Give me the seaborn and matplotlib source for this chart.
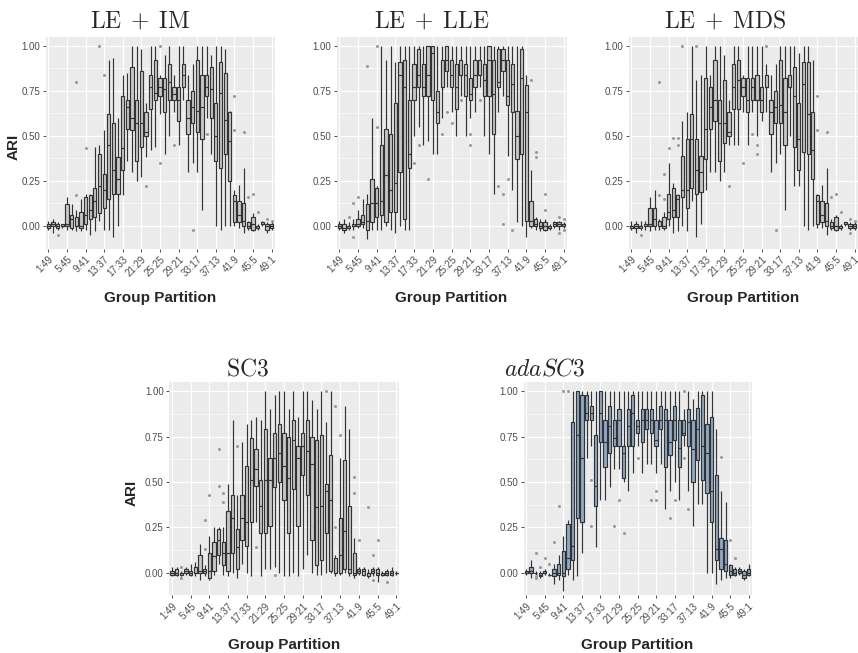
import numpy as np
import pandas as pd
import seaborn as sns
import matplotlib.pyplot as plt
from matplotlib.ticker import FixedLocator

# partitions 1:49 ... 49:1
PARTITIONS = [f"{i}:{50 - i}" for i in range(1, 50)]
TICK_LABELS = PARTITIONS[::4]

# ---- LE + IM : five-number summaries (whisker low, q1, median, q3, whisker high)
IM_LO = [-0.02, -0.04, -0.02, -0.01, -0.02, -0.02, -0.03, -0.03, -0.02, -0.05,
         -0.03, 0.03, -0.02, -0.02, -0.06, 0.00, 0.17, 0.36, 0.30, 0.25,
         0.27, 0.38, 0.42, 0.44, 0.62, 0.40, 0.50, 0.63, 0.45, 0.70,
         0.30, 0.35, 0.30, 0.09, 0.60, 0.40, 0.00, -0.02, 0.00, 0.00,
         0.00, -0.01, -0.04, -0.02, -0.03, -0.02, 0.00, -0.04, -0.02]
IM_Q1 = [-0.01, 0.00, -0.01, 0.00, 0.00, -0.01, 0.00, -0.01, 0.01, 0.04,
         0.05, 0.07, 0.10, 0.15, 0.18, 0.18, 0.31, 0.54, 0.53, 0.36,
         0.44, 0.50, 0.65, 0.70, 0.72, 0.63, 0.70, 0.70, 0.58, 0.77,
         0.51, 0.57, 0.52, 0.48, 0.72, 0.60, 0.36, 0.32, 0.40, 0.25,
         0.02, 0.02, 0.00, -0.01, -0.02, -0.01, 0.01, -0.02, -0.01]
IM_MED = [0.00, 0.01, 0.00, 0.00, 0.01, 0.04, 0.00, 0.00, 0.06, 0.09,
          0.14, 0.22, 0.20, 0.45, 0.31, 0.26, 0.43, 0.66, 0.60, 0.57,
          0.57, 0.52, 0.77, 0.74, 0.77, 0.76, 0.80, 0.73, 0.70, 0.84,
          0.60, 0.66, 0.64, 0.66, 0.77, 0.76, 0.50, 0.74, 0.59, 0.47,
          0.14, 0.06, 0.03, 0.00, 0.01, 0.00, 0.01, 0.00, 0.00]
IM_Q3 = [0.01, 0.02, 0.01, 0.01, 0.12, 0.06, 0.05, 0.08, 0.16, 0.17,
         0.21, 0.40, 0.29, 0.62, 0.57, 0.38, 0.72, 0.70, 0.88, 0.70,
         0.86, 0.63, 0.84, 0.92, 0.82, 0.82, 0.90, 0.77, 0.77, 0.90,
         0.70, 0.75, 0.92, 0.84, 0.84, 0.88, 0.68, 0.91, 0.85, 0.63,
         0.17, 0.14, 0.13, 0.02, 0.05, 0.00, 0.02, 0.01, 0.01]
IM_HI = [0.03, 0.04, 0.02, 0.01, 0.16, 0.12, 0.09, 0.15, 0.18, 0.18,
         0.44, 0.45, 0.53, 0.92, 0.93, 0.60, 0.84, 0.85, 1.00, 1.00,
         0.98, 0.68, 1.00, 1.00, 0.84, 0.95, 1.00, 0.84, 1.00, 1.00,
         0.84, 0.90, 1.00, 1.00, 1.00, 0.95, 1.00, 1.00, 0.98, 0.64,
         0.20, 0.23, 0.32, 0.03, 0.07, 0.01, 0.03, 0.02, 0.02]
IM_OUT_POS = [3, 7, 7, 9, 12, 13, 22, 25, 25, 28, 32, 35, 41, 41, 43, 44, 45, 46, 48, 49]
IM_OUT_ARI = [-0.05, 0.80, 0.17, 0.43, 1.00, 0.84, 0.22, 1.00, 0.35, 0.45,
              -0.02, 0.51, 0.72, 0.53, 0.52, 0.16, 0.18, 0.08, 0.04, 0.03]

# ---- LE + LLE
LLE_LO = [-0.02, -0.04, -0.02, -0.02, -0.01, -0.01, -0.07, -0.02, -0.02, -0.02,
          0.00, -0.02, -0.04, 0.00, -0.02, -0.02, 0.50, 0.55, 0.45, 0.47,
          0.40, 0.40, 0.60, 0.77, 0.63, 0.50, 0.72, 0.50, 0.60, 0.63,
          0.77, 0.50, 0.40, 0.18, 0.63, 0.72, 0.39, 0.20, 0.02, 0.00,
          -0.06, -0.01, -0.02, -0.03, -0.03, -0.02, -0.01, -0.02, -0.01]
LLE_Q1 = [-0.01, -0.02, -0.01, 0.00, 0.00, 0.01, -0.02, 0.02, 0.05, 0.06,
          0.02, 0.08, 0.08, 0.30, 0.04, 0.32, 0.70, 0.77, 0.72, 0.72,
          0.70, 0.57, 0.77, 0.86, 0.77, 0.65, 0.84, 0.72, 0.70, 0.77,
          0.84, 0.72, 0.72, 0.51, 0.77, 0.86, 0.67, 0.63, 0.37, 0.40,
          0.03, 0.00, 0.00, -0.01, -0.02, -0.01, 0.00, 0.00, 0.00]
LLE_MED = [0.00, -0.01, 0.00, 0.00, 0.01, 0.02, 0.03, 0.13, 0.13, 0.14,
           0.28, 0.20, 0.24, 0.84, 0.77, 0.40, 0.77, 0.84, 0.77, 0.84,
           0.96, 0.63, 0.77, 0.92, 0.84, 0.77, 0.84, 0.84, 0.73, 0.84,
           0.84, 0.81, 0.92, 0.73, 0.80, 0.92, 0.72, 0.79, 0.50, 0.82,
           0.63, 0.03, 0.01, 0.00, 0.00, -0.01, 0.01, 0.01, 0.01]
LLE_Q3 = [0.01, 0.01, 0.00, 0.01, 0.04, 0.06, 0.12, 0.26, 0.21, 0.45,
          0.54, 0.51, 0.68, 0.91, 0.92, 0.70, 0.90, 0.98, 0.90, 1.00,
          1.00, 0.75, 0.92, 1.00, 0.92, 0.90, 0.92, 0.90, 0.82, 0.92,
          0.92, 0.90, 1.00, 0.92, 0.98, 0.98, 0.92, 0.90, 0.64, 0.98,
          0.78, 0.14, 0.04, 0.02, 0.02, 0.00, 0.02, 0.02, 0.01]
LLE_HI = [0.03, 0.04, 0.02, 0.04, 0.09, 0.15, 0.18, 0.60, 0.22, 1.00,
          0.92, 1.00, 0.91, 1.00, 1.00, 1.00, 1.00, 1.00, 1.00, 1.00,
          1.00, 1.00, 1.00, 1.00, 1.00, 1.00, 1.00, 1.00, 1.00, 1.00,
          1.00, 1.00, 1.00, 1.00, 1.00, 1.00, 1.00, 1.00, 1.00, 1.00,
          0.84, 0.31, 0.05, 0.04, 0.04, 0.01, 0.03, 0.03, 0.02]
LLE_OUT_POS = [3, 4, 4, 5, 7, 9, 9, 17, 18, 20, 23, 24, 25, 27, 29, 29, 31, 35,
               36, 36, 37, 38, 42, 43, 43, 45, 45, 48, 48, 49, 49]
LLE_OUT_ARI = [0.05, 0.13, -0.06, 0.16, 0.89, 1.00, 0.55, 0.35, 0.45, 0.26,
               0.51, 0.63, 0.57, 0.70, 0.51, 0.45, 0.70, 0.22, 0.18, 0.01,
               0.26, -0.02, 0.81, 0.41, 0.38, 0.18, 0.09, 0.05, -0.04, 0.04, -0.02]

# ---- LE + MDS
MDS_LO = [-0.02, -0.04, -0.02, -0.02, -0.03, -0.02, -0.02, -0.02, 0.00, -0.04,
          -0.03, 0.00, -0.03, 0.14, -0.06, 0.01, 0.20, 0.30, 0.30, 0.25,
          0.30, 0.45, 0.45, 0.45, 0.63, 0.45, 0.63, 0.50, 0.58, 0.63,
          0.30, 0.35, 0.40, 0.09, 0.50, 0.22, 0.22, 0.00, -0.02, 0.00,
          -0.01, -0.01, -0.05, -0.02, -0.03, -0.02, 0.00, -0.02, -0.02]
MDS_Q1 = [-0.01, -0.01, -0.01, 0.00, 0.00, 0.00, 0.00, -0.01, 0.04, 0.05,
          0.05, 0.16, 0.10, 0.21, 0.18, 0.19, 0.37, 0.54, 0.58, 0.36,
          0.46, 0.50, 0.65, 0.65, 0.72, 0.63, 0.70, 0.70, 0.63, 0.77,
          0.51, 0.57, 0.57, 0.45, 0.77, 0.44, 0.31, 0.41, 0.40, 0.26,
          0.01, 0.02, 0.00, -0.01, -0.02, -0.01, 0.01, -0.01, -0.01]
MDS_MED = [0.00, 0.00, 0.00, 0.00, 0.01, 0.04, 0.03, 0.00, 0.08, 0.09,
           0.15, 0.20, 0.20, 0.48, 0.31, 0.30, 0.54, 0.66, 0.70, 0.57,
           0.57, 0.52, 0.77, 0.81, 0.77, 0.70, 0.77, 0.70, 0.70, 0.77,
           0.63, 0.66, 0.67, 0.63, 0.77, 0.72, 0.48, 0.79, 0.62, 0.42,
           0.14, 0.06, 0.03, 0.00, 0.00, 0.00, 0.01, 0.00, 0.00]
MDS_Q3 = [0.00, 0.01, 0.00, 0.01, 0.10, 0.10, 0.03, 0.05, 0.18, 0.21,
          0.17, 0.39, 0.48, 0.62, 0.48, 0.39, 0.82, 0.77, 0.92, 0.70,
          0.81, 0.63, 0.90, 0.92, 0.82, 0.82, 0.82, 0.84, 0.77, 0.84,
          0.70, 0.75, 0.92, 0.82, 0.84, 0.88, 0.68, 0.91, 0.91, 0.63,
          0.17, 0.14, 0.13, 0.02, 0.05, 0.00, 0.02, 0.01, 0.01]
MDS_HI = [0.03, 0.03, 0.03, 0.03, 0.16, 0.20, 0.04, 0.08, 0.35, 0.24,
          0.18, 0.58, 0.63, 1.00, 0.81, 0.84, 1.00, 0.84, 1.00, 1.00,
          0.95, 0.70, 1.00, 1.00, 0.84, 1.00, 1.00, 1.00, 1.00, 0.90,
          0.84, 0.90, 1.00, 1.00, 1.00, 1.00, 0.96, 1.00, 1.00, 0.92,
          0.18, 0.23, 0.32, 0.04, 0.06, 0.01, 0.02, 0.02, 0.02]
MDS_OUT_POS = [3, 7, 7, 8, 8, 9, 10, 11, 11, 12, 15, 22, 25, 27, 28, 28, 30,
               32, 41, 41, 43, 44, 45, 46, 48, 48, 49]
MDS_OUT_ARI = [-0.05, 0.80, 0.17, 0.29, 0.15, 0.43, 0.49, 0.49, 0.45, 1.00,
               1.00, 0.22, 0.35, 0.51, 0.45, 0.40, 1.00, -0.02, 0.72, 0.53,
               0.52, 0.16, 0.18, 0.08, 0.04, -0.04, 0.03]

# ---- SC3
SC3_LO = [-0.02, -0.02, -0.02, -0.01, -0.02, -0.02, -0.04, -0.02, -0.04, -0.01,
          0.05, -0.01, -0.02, 0.00, -0.03, 0.05, 0.00, -0.02, 0.28, -0.02,
          0.02, 0.02, 0.03, 0.00, -0.02, -0.02, 0.00, -0.02, 0.02, 0.10,
          0.00, -0.01, -0.01, 0.00, 0.00, -0.02, -0.01, 0.00, -0.02, -0.03,
          -0.01, -0.02, -0.03, -0.02, -0.05, -0.02, -0.02, -0.02, -0.01]
SC3_Q1 = [-0.01, -0.01, -0.01, 0.00, -0.01, 0.00, 0.00, 0.00, -0.03, 0.01,
          0.10, 0.04, 0.01, 0.11, 0.02, 0.18, 0.15, 0.28, 0.48, 0.22,
          0.22, 0.26, 0.47, 0.50, 0.40, 0.22, 0.46, 0.26, 0.54, 0.43,
          0.18, 0.04, 0.07, 0.22, 0.01, 0.00, 0.00, 0.02, 0.00, -0.01,
          0.00, -0.01, -0.02, 0.00, -0.01, -0.01, -0.01, -0.01, 0.00]
SC3_MED = [0.00, 0.00, 0.00, 0.01, 0.00, 0.00, 0.01, 0.01, 0.01, 0.09,
           0.18, 0.11, 0.11, 0.30, 0.14, 0.30, 0.28, 0.51, 0.57, 0.37,
           0.51, 0.51, 0.63, 0.66, 0.59, 0.52, 0.73, 0.63, 0.70, 0.67,
           0.60, 0.36, 0.37, 0.45, 0.40, 0.00, 0.10, 0.23, 0.02, 0.00,
           0.01, 0.01, 0.00, 0.01, 0.00, -0.01, 0.00, 0.00, 0.00]
SC3_Q3 = [0.01, 0.02, 0.00, 0.02, 0.01, 0.03, 0.10, 0.02, 0.11, 0.17,
          0.24, 0.17, 0.34, 0.43, 0.24, 0.43, 0.59, 0.74, 0.68, 0.51,
          0.79, 0.63, 0.77, 0.82, 0.77, 0.75, 0.84, 0.70, 0.77, 0.84,
          0.75, 0.73, 0.76, 0.49, 0.65, 0.08, 0.30, 0.62, 0.37, 0.11,
          0.02, 0.02, 0.00, 0.02, 0.02, 0.00, 0.01, 0.01, 0.00]
SC3_HI = [0.03, 0.03, 0.01, 0.03, 0.05, 0.06, 0.16, 0.04, 0.20, 0.25,
          0.25, 0.25, 0.49, 0.84, 0.43, 0.72, 0.82, 0.84, 0.86, 0.84,
          1.00, 0.90, 0.98, 1.00, 1.00, 0.90, 1.00, 0.86, 1.00, 1.00,
          0.95, 0.90, 1.00, 0.83, 1.00, 0.10, 0.63, 0.92, 0.79, 0.19,
          0.03, 0.03, 0.02, 0.03, 0.03, 0.01, 0.02, 0.03, 0.01]
SC3_OUT_POS = [3, 3, 8, 8, 9, 11, 11, 12, 12, 15, 19, 23, 34, 36, 36, 37,
               40, 40, 41, 43, 44, 44, 45, 47]
SC3_OUT_ARI = [0.03, -0.03, 0.29, 0.13, 0.43, 0.68, 0.48, 0.44, 0.39, 0.70,
               0.14, -0.01, 1.00, 0.92, 0.25, 0.76, 0.53, 0.44, 0.18, 0.36,
               0.10, -0.04, 0.18, -0.05]

# ---- adaSC3
ADA_LO = [-0.01, -0.03, -0.01, -0.03, -0.01, -0.02, -0.06, -0.04, -0.10, -0.01,
          -0.04, -0.02, 0.11, 0.63, 0.70, 0.14, 0.40, 0.40, 0.47, 0.57,
          0.57, 0.50, 0.45, 0.55, 0.70, 0.55, 0.60, 0.60, 0.55, 0.60,
          0.35, 0.45, 0.50, 0.40, 0.70, 0.45, 0.26, 0.38, 0.38, 0.00,
          0.00, -0.06, -0.04, -0.03, -0.03, -0.02, -0.01, -0.04, -0.02]
ADA_Q1 = [0.00, 0.00, 0.00, -0.02, 0.00, -0.01, -0.02, -0.01, -0.02, 0.02,
          0.07, 0.30, 0.28, 0.84, 0.84, 0.37, 0.72, 0.58, 0.66, 0.70,
          0.70, 0.52, 0.70, 0.70, 0.77, 0.72, 0.79, 0.77, 0.70, 0.79,
          0.58, 0.65, 0.73, 0.58, 0.76, 0.70, 0.50, 0.62, 0.51, 0.44,
          0.28, 0.07, 0.02, 0.01, -0.01, -0.01, 0.00, -0.03, -0.01]
ADA_MED = [0.00, 0.01, 0.00, -0.01, 0.00, -0.01, 0.00, 0.00, 0.00, 0.08,
           0.15, 0.76, 0.63, 0.88, 0.88, 0.48, 0.88, 0.72, 0.81, 0.74,
           0.84, 0.66, 0.81, 0.88, 0.81, 0.84, 0.84, 0.84, 0.73, 0.84,
           0.84, 0.72, 0.84, 0.69, 0.77, 0.83, 0.68, 0.79, 0.70, 0.66,
           0.45, 0.13, 0.13, 0.05, 0.01, 0.00, 0.01, -0.01, 0.00]
ADA_Q3 = [0.01, 0.03, 0.00, 0.00, 0.01, -0.01, 0.02, 0.05, 0.12, 0.27,
          0.83, 1.00, 0.98, 0.98, 0.92, 0.76, 1.00, 0.84, 0.92, 0.84,
          0.90, 0.70, 0.90, 0.98, 0.84, 0.90, 0.90, 0.90, 0.84, 0.92,
          0.90, 0.84, 0.92, 0.84, 0.84, 0.90, 0.84, 0.91, 0.98, 0.82,
          0.86, 0.54, 0.19, 0.18, 0.04, 0.02, 0.02, 0.01, 0.02]
ADA_HI = [0.02, 0.07, 0.01, 0.01, 0.02, 0.00, 0.05, 0.10, 0.20, 0.29,
          1.00, 1.00, 1.00, 1.00, 1.00, 1.00, 1.00, 1.00, 1.00, 1.00,
          1.00, 1.00, 1.00, 1.00, 1.00, 1.00, 1.00, 1.00, 1.00, 1.00,
          1.00, 1.00, 1.00, 1.00, 0.90, 1.00, 0.96, 1.00, 1.00, 1.00,
          1.00, 0.79, 0.45, 0.39, 0.05, 0.03, 0.03, 0.02, 0.05]
ADA_OUT_POS = [3, 3, 3, 4, 5, 6, 7, 8, 9, 10, 15, 15, 20, 21, 22, 25, 28,
               29, 29, 32, 33, 35, 35, 36, 43, 45, 46]
ADA_OUT_ARI = [0.11, -0.02, -0.03, 0.03, 0.08, 0.05, 0.17, 0.37, 1.00, 1.00,
               0.51, 0.26, 0.26, 0.40, 0.22, 0.63, 0.40, 0.45, 0.40, 0.30,
               0.40, 1.00, 0.63, 0.35, 0.64, 0.18, 0.08]

GREY_FILL = "#C8C8C8"
BLUE_FILL = "#8FAAC6"


def box_frame(lo, q1, med, q3, hi):
    rows = []
    for lab, five in zip(PARTITIONS, zip(lo, q1, med, q3, hi)):
        for v in five:
            rows.append((lab, v))
    return pd.DataFrame(rows, columns=["partition", "ARI"])


sns.set_style("darkgrid", {"axes.facecolor": "#EBEBEB", "grid.color": "white"})
plt.rcParams["font.family"] = ["Liberation Sans", "DejaVu Sans"]
plt.rcParams["mathtext.fontset"] = "cm"

W, H = 858, 653
fig = plt.figure(figsize=(W / 100, H / 100), dpi=100)

# panel rectangles in pixels: left, right, top, bottom
panels = [
    ("LE + IM", IM_LO, IM_Q1, IM_MED, IM_Q3, IM_HI, IM_OUT_POS, IM_OUT_ARI,
     GREY_FILL, (45.5, 274.5, 36.7, 248.5), True, 140, 28),
    ("LE + LLE", LLE_LO, LLE_Q1, LLE_MED, LLE_Q3, LLE_HI, LLE_OUT_POS, LLE_OUT_ARI,
     GREY_FILL, (336.5, 566.5, 36.7, 248.5), False, 432, 28),
    ("LE + MDS", MDS_LO, MDS_Q1, MDS_MED, MDS_Q3, MDS_HI, MDS_OUT_POS, MDS_OUT_ARI,
     GREY_FILL, (628.5, 857.5, 36.7, 248.5), False, 725, 28),
    ("SC3", SC3_LO, SC3_Q1, SC3_MED, SC3_Q3, SC3_HI, SC3_OUT_POS, SC3_OUT_ARI,
     GREY_FILL, (169.2, 399.0, 382.2, 595.4), True, 247, 376),
    ("adaSC3", ADA_LO, ADA_Q1, ADA_MED, ADA_Q3, ADA_HI, ADA_OUT_POS, ADA_OUT_ARI,
     BLUE_FILL, (523.5, 751.5, 382.2, 595.4), False, 545, 376),
]

titles = {
    "LE + IM": r"$\mathrm{LE}\;+\;\mathrm{IM}$",
    "LE + LLE": r"$\mathrm{LE}\;+\;\mathrm{LLE}$",
    "LE + MDS": r"$\mathrm{LE}\;+\;\mathrm{MDS}$",
    "SC3": r"$\mathrm{SC3}$",
    "adaSC3": r"$adaSC3$",
}

for name, lo, q1, med, q3, hi, opos, oari, fill, (l, r, t, b), ylab, tx, ty in panels:
    ax = fig.add_axes([l / W, (H - b) / H, (r - l) / W, (b - t) / H])
    df = box_frame(lo, q1, med, q3, hi)
    sns.boxplot(data=df, x="partition", y="ARI", order=PARTITIONS, ax=ax,
                whis=(0, 100), showcaps=False, fliersize=0, width=0.7,
                color=fill, saturation=1, linecolor="#333333", linewidth=0.85)
    sns.stripplot(x=[PARTITIONS[p - 1] for p in opos], y=oari, order=PARTITIONS,
                  jitter=False, color="#9A9A9A", size=2.2, linewidth=0, ax=ax)

    ax.set_xlim(-0.6, 48.6)
    ax.set_ylim(-0.125, 1.05)
    ax.set_xticks(range(0, 49, 4))
    ax.set_xticklabels(TICK_LABELS, rotation=45, ha="right", rotation_mode="anchor",
                       fontsize=7, color="#4D4D4D")
    ax.set_yticks([0, 0.25, 0.5, 0.75, 1.0])
    ax.set_yticklabels(["0.00", "0.25", "0.50", "0.75", "1.00"],
                       fontsize=7, color="#4D4D4D")
    ax.yaxis.set_minor_locator(FixedLocator([0.125, 0.375, 0.625, 0.875]))
    ax.grid(True, which="major", axis="both", color="white", linewidth=0.9)
    ax.grid(True, which="minor", axis="y", color="white", linewidth=0.45)
    ax.set_axisbelow(True)
    ax.tick_params(axis="both", which="major", length=2.5, width=0.6,
                   color="#333333", pad=1.5, bottom=True, left=True)
    ax.tick_params(axis="y", which="minor", length=0)
    for s in ax.spines.values():
        s.set_visible(False)

    ax.set_xlabel("Group Partition", fontsize=11, fontweight="bold", va="top")
    ax.xaxis.set_label_coords(0.5, -0.2)
    if ylab:
        ax.set_ylabel("ARI", fontsize=11, fontweight="bold")
        ax.yaxis.set_label_coords(-0.11 if name == "LE + IM" else -0.135, 0.48)
    else:
        ax.set_ylabel("")

    fig.text(tx / W, (H - ty) / H, titles[name], fontsize=17, ha="center",
             va="baseline")

fig.savefig("out.png", dpi=100)
